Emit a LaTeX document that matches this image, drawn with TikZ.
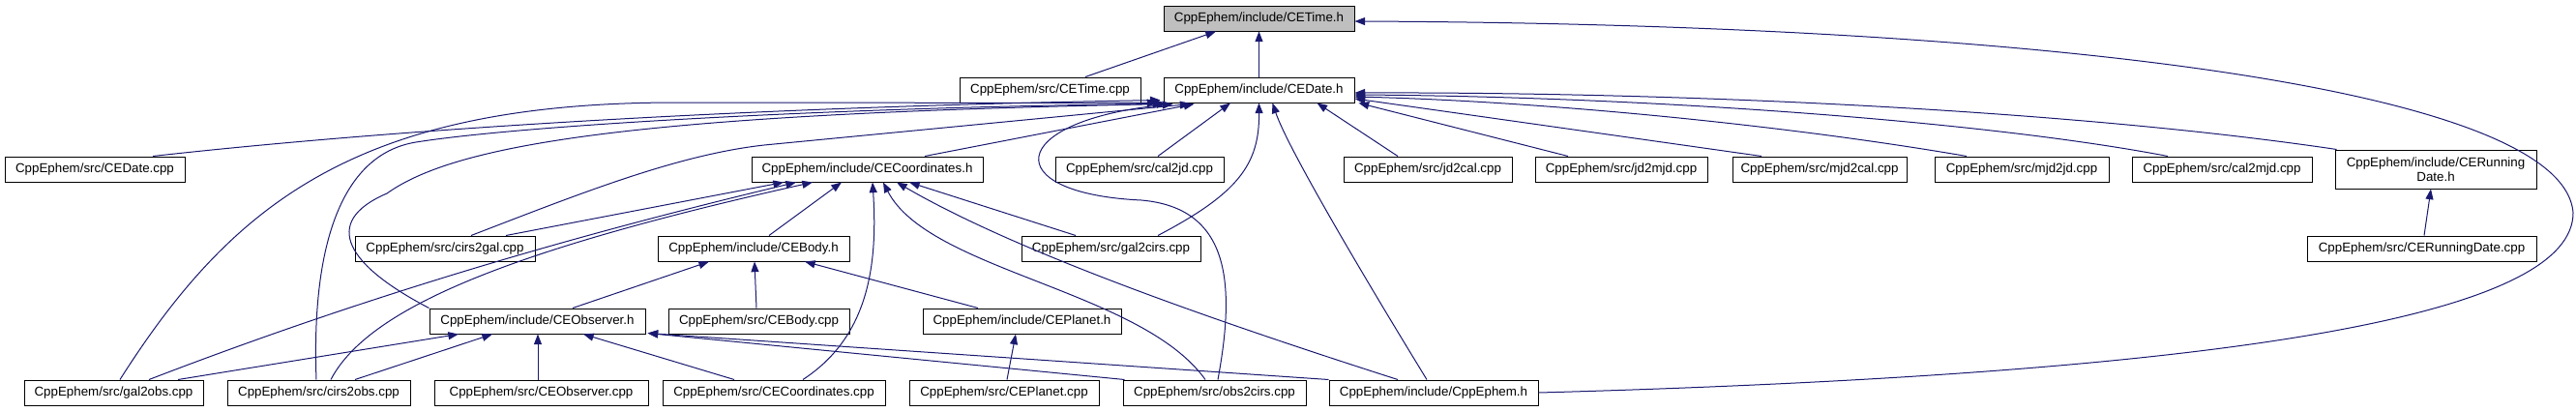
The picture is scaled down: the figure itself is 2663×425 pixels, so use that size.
\documentclass[tikz,border=0pt]{standalone}
\usepackage{fontspec}
\setmainfont{Liberation Sans}
\usetikzlibrary{arrows.meta,calc}
\definecolor{edgeblue}{RGB}{25,25,112}
\definecolor{rootgray}{RGB}{191,191,191}
\begin{document}
\begin{tikzpicture}[x=0.75pt,y=-0.75pt,
  box/.style={draw=black,line width=0.75pt,fill=white,inner sep=0pt,minimum height=19.5pt,font=\fontsize{10}{11.5}\selectfont},
  rootbox/.style={box,fill=rootgray},
  edge/.style={draw=edgeblue,line width=0.75pt,-{Triangle[length=8pt,width=6pt]}}]
\useasboundingbox (0,0) rectangle (2663,425);
% row 1
\node[rootbox,minimum width=197*0.75pt] (time) at (1301.5,19) {CppEphem/include/CETime.h};
% row 2
\node[box,minimum width=187*0.75pt] (timecpp) at (1085.5,93) {CppEphem/src/CETime.cpp};
\node[box,minimum width=197*0.75pt] (date) at (1301.5,93) {CppEphem/include/CEDate.h};
% row 3
\node[box,minimum width=186*0.75pt] (datecpp) at (98,175) {CppEphem/src/CEDate.cpp};
\node[box,minimum width=239*0.75pt] (coord) at (896.5,175) {CppEphem/include/CECoordinates.h};
\node[box,minimum width=174*0.75pt] (cal2jd) at (1178,175) {CppEphem/src/cal2jd.cpp};
\node[box,minimum width=174*0.75pt] (jd2cal) at (1476,175) {CppEphem/src/jd2cal.cpp};
\node[box,minimum width=178*0.75pt] (jd2mjd) at (1676,175) {CppEphem/src/jd2mjd.cpp};
\node[box,minimum width=180*0.75pt] (mjd2cal) at (1881,175) {CppEphem/src/mjd2cal.cpp};
\node[box,minimum width=180*0.75pt] (mjd2jd) at (2090,175) {CppEphem/src/mjd2jd.cpp};
\node[box,minimum width=186*0.75pt] (cal2mjd) at (2297,175) {CppEphem/src/cal2mjd.cpp};
\node[box,minimum width=208*0.75pt,minimum height=30pt,align=center] (rdh) at (2518,175) {CppEphem/include/CERunning\\Date.h};
% row 4
\node[box,minimum width=186*0.75pt] (cirs2gal) at (460,257) {CppEphem/src/cirs2gal.cpp};
\node[box,minimum width=198*0.75pt] (body) at (779,257) {CppEphem/include/CEBody.h};
\node[box,minimum width=185*0.75pt] (gal2cirs) at (1148.5,257) {CppEphem/src/gal2cirs.cpp};
\node[box,minimum width=237*0.75pt] (rdcpp) at (2503.5,257) {CppEphem/src/CERunningDate.cpp};
% row 5
\node[box,minimum width=223*0.75pt] (obsh) at (555.5,332) {CppEphem/include/CEObserver.h};
\node[box,minimum width=187*0.75pt] (bodycpp) at (784.5,332) {CppEphem/src/CEBody.cpp};
\node[box,minimum width=205*0.75pt] (planeth) at (1056.5,332) {CppEphem/include/CEPlanet.h};
% row 6
\node[box,minimum width=185*0.75pt] (gal2obs) at (117.5,406) {CppEphem/src/gal2obs.cpp};
\node[box,minimum width=189*0.75pt] (cirs2obs) at (329.5,406) {CppEphem/src/cirs2obs.cpp};
\node[box,minimum width=221*0.75pt] (obscpp) at (559.5,406) {CppEphem/src/CEObserver.cpp};
\node[box,minimum width=230*0.75pt] (coordcpp) at (800,406) {CppEphem/src/CECoordinates.cpp};
\node[box,minimum width=196*0.75pt] (planetcpp) at (1038,406) {CppEphem/src/CEPlanet.cpp};
\node[box,minimum width=189*0.75pt] (obs2cirs) at (1255.5,406) {CppEphem/src/obs2cirs.cpp};
\node[box,minimum width=216*0.75pt] (cppephem) at (1482,406) {CppEphem/include/CppEphem.h};

% edges into CETime.h
\draw[edge] ($(timecpp.north)+(36.5,0)$) -- ($(time.south)+(-44.5,0)$);
\draw[edge] (date.north) -- (time.south);
\draw[edge] (cppephem.east) .. controls (2350,385) and (2660,320) .. (2660,220) .. controls (2650,90) and (2100,25) .. ($(time.east)+(0,3)$);

% edges into CEDate.h
\draw[edge] ($(datecpp.north)+(60,0)$) .. controls (350,140) and (700,112) .. ($(date.south west)+(-3,-3)$);
\draw[edge] ($(gal2obs.north)+(6.5,0)$) .. controls (240,210) and (370,106) .. (700,106) -- ($(date.south west)+(-6,0)$);
\draw[edge] ($(cirs2obs.north)+(-2.5,0)$) .. controls (322,260) and (350,160) .. (430,147) .. controls (550,128) and (900,110) .. ($(date.south west)+(0,1)$);
\draw[edge] (obsh.north west) .. controls (360,275) and (330,230) .. (400,200) .. controls (470,150) and (650,118) .. ($(date.south west)+(4,1)$);
\draw[edge] ($(cirs2gal.north)+(27,0)$) .. controls (600,200) and (700,160) .. (790,150) -- ($(date.south west)+(28,1)$);
\draw[edge] ($(coord.north)+(59.5,0)$) -- ($(date.south west)+(32,1)$);
\draw[edge] ($(obs2cirs.north)+(3.5,0)$) .. controls (1278,290) and (1270,215) .. (1180,207) .. controls (1030,200) and (1040,125) .. ($(date.south west)+(10,1)$);
\draw[edge] ($(cal2jd.north)+(19,0)$) -- ($(date.south)+(-29.5,0)$);
\draw[edge] ($(gal2cirs.north)+(48.5,0)$) .. controls (1280,200) and (1302,170) .. (date.south);
\draw[edge] ($(cppephem.north)+(-7,0)$) .. controls (1400,270) and (1330,150) .. ($(date.south)+(14,0)$);
\draw[edge] ($(jd2cal.north)+(-31,0)$) -- ($(date.south)+(60,0)$);
\draw[edge] ($(jd2mjd.north)+(-55,0)$) -- ($(date.south east)+(4,0)$);
\draw[edge] ($(mjd2cal.north)+(-60,0)$) -- ($(date.east)+(0,9)$);
\draw[edge] ($(mjd2jd.north)+(-57,0)$) .. controls (1850,130) and (1600,105) .. ($(date.east)+(0,7)$);
\draw[edge] ($(cal2mjd.north)+(-56,0)$) .. controls (2050,125) and (1700,100) .. ($(date.east)+(0,5)$);
\draw[edge] ($(rdh.north west)+(2,0)$) .. controls (2150,115) and (1750,95) .. ($(date.east)+(0,3)$);

% edges into CECoordinates.h
\draw[edge] ($(cirs2gal.north)+(63,0)$) -- ($(coord.south)+(-86.5,0)$);
\draw[edge] ($(gal2obs.north)+(36.5,0)$) .. controls (420,290) and (650,230) .. ($(coord.south)+(-73.5,0)$);
\draw[edge] ($(cirs2obs.north)+(12.5,0)$) .. controls (380,320) and (520,260) .. ($(coord.south)+(-56.5,0)$);
\draw[edge] ($(body.north)+(16,0)$) -- ($(coord.south)+(-26.5,0)$);
\draw[edge] ($(coordcpp.north)+(30,0)$) .. controls (895,350) and (908,280) .. ($(coord.south)+(5.5,0)$);
\draw[edge] ($(obs2cirs.north)+(-9.5,0)$) .. controls (1180,300) and (960,280) .. ($(coord.south)+(16.5,0)$);
\draw[edge] ($(cppephem.north)+(-37,0)$) .. controls (1250,330) and (1050,260) .. ($(coord.south)+(30.5,0)$);
\draw[edge] ($(gal2cirs.north)+(-36.5,0)$) -- ($(coord.south)+(43.5,0)$);

% edges into CEBody.h
\draw[edge] ($(obsh.north)+(36.5,0)$) -- ($(body.south)+(-46,0)$);
\draw[edge] ($(bodycpp.north)+(-2.5,0)$) -- ($(body.south)+(1,0)$);
\draw[edge] ($(planeth.north)+(-45.5,0)$) -- ($(body.south)+(53,0)$);

% edges into CEObserver.h
\draw[edge] ($(gal2obs.north)+(66.5,0)$) -- ($(obsh.south)+(-81.5,0)$);
\draw[edge] ($(cirs2obs.north)+(37.5,0)$) -- ($(obsh.south)+(-46.5,0)$);
\draw[edge] ($(obscpp.north)+(-3.5,0)$) -- ($(obsh.south)+(0.5,0)$);
\draw[edge] ($(coordcpp.north)+(-41,0)$) -- ($(obsh.south)+(47.5,0)$);
\draw[edge] ($(obs2cirs.north west)+(2,0)$) -- ($(obsh.south east)+(2,-1)$);
\draw[edge] (cppephem.north west) -- ($(obsh.south east)+(2,-1)$);

% others
\draw[edge] ($(planetcpp.north)+(3,0)$) -- ($(planeth.south)+(-6.5,0)$);
\draw[edge] ($(rdcpp.north)+(2.5,0)$) -- ($(rdh.south)+(-5,0)$);
\end{tikzpicture}
\end{document}
